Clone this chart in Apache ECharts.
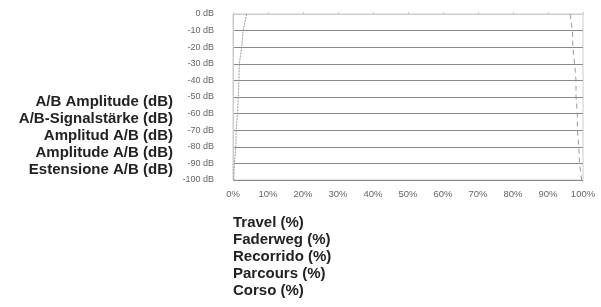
<!DOCTYPE html>
<html>
<head>
<meta charset="utf-8">
<script src="https://cdn.jsdelivr.net/npm/echarts@6/dist/echarts.min.js"></script>
<style>
  html, body { margin: 0; padding: 0; background: #fff; }
  #main { width: 601px; height: 307px; }
</style>
</head>
<body>
<div id="main"></div>
<script>
// amplitude levels (dB) and travel (%)
var levels = [0, -10, -20, -30, -40, -50, -60, -70, -80, -90, -100];
var travelA = [3.9, 2.9, 2.5, 1.8, 1.7, 1.5, 1.3, 0.9, 0.8, 0.4, 0.2];
var travelB = [96.3, 97.0, 97.1, 97.6, 98.0, 98.0, 98.4, 98.4, 98.8, 99.0, 99.6];
var yNames = ['A/B Amplitude (dB)', 'A/B-Signalstärke (dB)', 'Amplitud A/B (dB)', 'Amplitude A/B (dB)', 'Estensione A/B (dB)'];
var xNames = ['Travel (%)', 'Faderweg (%)', 'Recorrido (%)', 'Parcours (%)', 'Corso (%)'];

var myChart = echarts.init(document.getElementById('main'));

function pairs(xs) {
  return xs.map(function (x, i) { return [x, levels[i]]; });
}

myChart.setOption({
  animation: false,
  grid: { left: 233, top: 14, right: 18, bottom: 127, show: true, borderColor: '#ccc', borderWidth: 1 },
  xAxis: {
    type: 'value', min: 0, max: 100, interval: 10,
    axisLine: { show: true, lineStyle: { color: '#ccc' } },
    axisTick: { show: true, length: 2, inside: true, lineStyle: { color: '#ccc' } },
    splitLine: { show: false },
    axisLabel: { formatter: '{value}%', color: '#666', fontSize: 9.5, fontFamily: 'Liberation Sans', margin: 9 }
  },
  yAxis: {
    type: 'value', min: -100, max: 0, interval: 10,
    axisLine: { show: true, lineStyle: { color: '#ccc' } },
    axisTick: { show: false },
    splitLine: { show: true, lineStyle: { color: '#8a8a8a', width: 1 } },
    axisLabel: { formatter: '{value} dB', color: '#666', fontSize: 9, fontFamily: 'Liberation Sans', margin: 19 }
  },
  series: [
    {
      type: 'line', data: pairs(travelA), showSymbol: false,
      lineStyle: { color: '#999', width: 1, type: [2, 1] }
    },
    {
      type: 'line', data: pairs(travelB), showSymbol: false,
      lineStyle: { color: '#999', width: 1, type: [5, 4] }
    }
  ],
  graphic: [
    {
      type: 'text', x: 173, y: 93,
      style: {
        text: yNames.join('\n'), align: 'right', lineHeight: 17,
        font: 'bold 15px "Liberation Sans", Arial, sans-serif', fill: '#222'
      }
    },
    {
      type: 'text', x: 233, y: 214,
      style: {
        text: xNames.join('\n'), align: 'left', lineHeight: 17,
        font: 'bold 15px "Liberation Sans", Arial, sans-serif', fill: '#222'
      }
    }
  ]
});
</script>
</body>
</html>
